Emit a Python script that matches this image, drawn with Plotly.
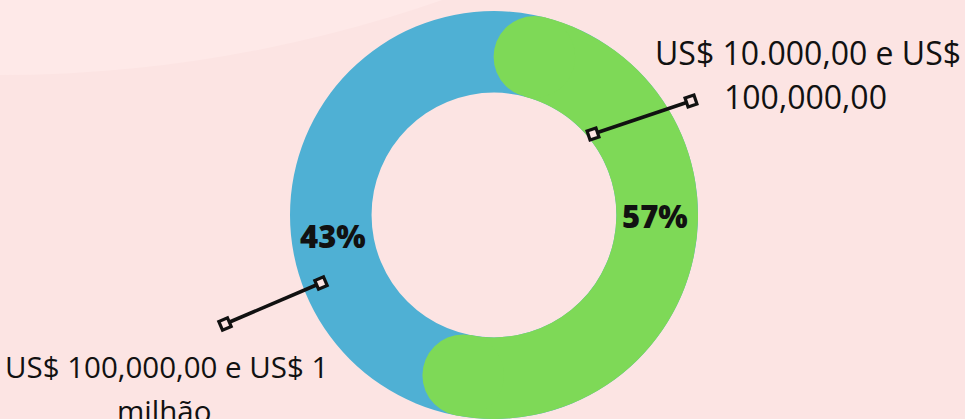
import math
import plotly.graph_objects as go

# ---------------- data ----------------
categories = ["US$ 10.000,00 e US$ 100,000,00", "US$ 100,000,00 e US$ 1 milhão"]
label_lines = [["US$ 10.000,00 e US$", "100,000,00"], ["US$ 100,000,00 e US$ 1", "milhão"]]
shares = [57, 43]
pct_text = ["57%", "43%"]

# ---------------- style ----------------
GREEN = "#7ED957"
BLUE = "#4FB0D4"
BG = "#FCE4E3"
BG_LIGHT = "#FEE9E8"
INK = "#111111"
FONT = "Open Sans"

W, H = 965, 419
CX, CY, R = 494, 215, 204
HOLE = 0.6


def px(x):
    return x / W


def py(y):
    return 1 - y / H


dom_x = [px(CX - R), px(CX + R)]
dom_y = [py(CY + R), py(CY - R)]

hw = R * (1 - HOLE) / 2           # half ring width
r_mid = R * (1 + HOLE) / 2        # mid radius
cap_deg = math.degrees(hw / r_mid)
cap_pct = cap_deg / 360 * sum(shares)

fig = go.Figure()

# full ring (second category colour)
fig.add_trace(go.Pie(
    values=[sum(shares)], labels=[categories[1]], hole=HOLE, sort=False,
    marker=dict(colors=[BLUE], line=dict(width=0)), textinfo="none",
    hoverinfo="skip", showlegend=False, domain=dict(x=dom_x, y=dom_y)))

# first category arc (core between rounded caps)
fig.add_trace(go.Pie(
    values=[cap_pct, shares[0] - 2 * cap_pct, sum(shares) - shares[0] + cap_pct],
    labels=["a", categories[0], "b"], hole=HOLE, sort=False, direction="clockwise",
    rotation=0,
    marker=dict(colors=["rgba(0,0,0,0)", GREEN, "rgba(0,0,0,0)"], line=dict(width=0)),
    textinfo="none", hoverinfo="skip", showlegend=False,
    domain=dict(x=dom_x, y=dom_y)))

shapes = []
# background decoration
BR = 1341
shapes.append(dict(type="circle", xref="paper", yref="paper", layer="below",
                   x0=px(-BR), x1=px(BR), y0=py(75), y1=py(75 - 2 * BR),
                   fillcolor=BG_LIGHT, line=dict(width=0)))

# rounded caps
cx_p = (dom_x[0] + dom_x[1]) / 2
cy_p = (dom_y[0] + dom_y[1]) / 2
end_deg = shares[0] / sum(shares) * 360
for ang in (cap_deg, end_deg - cap_deg):
    t = math.radians(ang)
    dx = r_mid * math.sin(t)
    dy = r_mid * math.cos(t)
    shapes.append(dict(type="circle", xref="paper", yref="paper",
                       xsizemode="pixel", ysizemode="pixel",
                       xanchor=cx_p, yanchor=cy_p,
                       x0=dx - hw, x1=dx + hw, y0=dy - hw, y1=dy + hw,
                       fillcolor=GREEN, line=dict(width=0)))

# leader lines with square end markers
leaders = [((593, 134), (691, 101)), ((321, 283), (225, 324))]
for (x1, y1), (x2, y2) in leaders:
    shapes.append(dict(type="line", xref="paper", yref="paper",
                       x0=px(x1), y0=py(y1), x1=px(x2), y1=py(y2),
                       line=dict(color=INK, width=3.6)))
for (x1, y1), (x2, y2) in leaders:
    a = math.atan2(y2 - y1, x2 - x1)
    s = 4.7
    for (mx, my) in ((x1, y1), (x2, y2)):
        pts = []
        for (u, v) in ((-s, -s), (s, -s), (s, s), (-s, s)):
            X = mx + u * math.cos(a) - v * math.sin(a)
            Y = my + u * math.sin(a) + v * math.cos(a)
            pts.append(f"{px(X):.5f},{py(Y):.5f}")
        path = "M " + " L ".join(pts) + " Z"
        shapes.append(dict(type="path", xref="paper", yref="paper", path=path,
                           fillcolor=BG, line=dict(color=INK, width=3.2)))

annotations = []
pct_pos = [(655, 216), (333, 236)]
for txt, (x, y) in zip(pct_text, pct_pos):
    annotations.append(dict(text=txt, x=px(x), y=py(y), xref="paper", yref="paper",
                            showarrow=False, xanchor="center", yanchor="middle",
                            font=dict(family=FONT, size=31, weight=800, color=INK)))

label_pos = [[(807.5, 53), (805.5, 96.5)], [(166.5, 366.5), (164, 410)]]
label_size = [32, 29.5]
for lines, poss, fs in zip(label_lines, label_pos, label_size):
    for line, (x, y) in zip(lines, poss):
        annotations.append(dict(text=line, x=px(x), y=py(y), xref="paper", yref="paper",
                                showarrow=False, xanchor="center", yanchor="middle",
                                font=dict(family=FONT, size=fs, color=INK)))

fig.update_layout(
    width=W, height=H, autosize=False,
    margin=dict(l=0, r=0, t=0, b=0),
    paper_bgcolor=BG, plot_bgcolor=BG,
    shapes=shapes, annotations=annotations,
    showlegend=False,
)

fig.write_html("out.html", config={"displayModeBar": False},
               post_script="document.body.style.margin='0px';document.body.style.overflow='hidden';")
